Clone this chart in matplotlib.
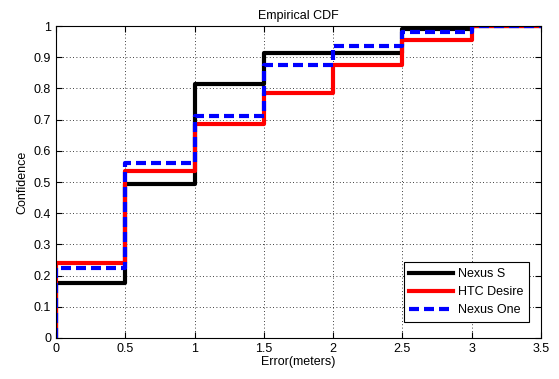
import matplotlib
matplotlib.use("Agg")
import matplotlib.pyplot as plt

# step edges (meters) and CDF values for each phone
edges = [0, 0, 0.5, 1.0, 1.5, 2.0, 2.5, 3.0, 3.5]
nexus_s = [0, 0.175, 0.495, 0.815, 0.915, 0.915, 0.99, 1.0, 1.0]
htc_desire = [0, 0.24, 0.535, 0.685, 0.785, 0.875, 0.955, 1.0, 1.0]
nexus_one = [0, 0.225, 0.56, 0.71, 0.875, 0.935, 0.98, 1.0, 1.0]

xticks = [0, 0.5, 1, 1.5, 2, 2.5, 3, 3.5]
yticks = [0, 0.1, 0.2, 0.3, 0.4, 0.5, 0.6, 0.7, 0.8, 0.9, 1]

plt.rcParams['font.family'] = ['Liberation Sans', 'DejaVu Sans']
plt.rcParams['font.size'] = 9

fig = plt.figure(figsize=(5.59, 3.79), dpi=100)
fig.patch.set_facecolor('white')
ax = fig.add_axes([56 / 559, 41 / 379, 485 / 559, 312 / 379])

ax.plot(edges, nexus_s, color='black', lw=3, drawstyle='steps-post', label='Nexus S')
ax.plot(edges, htc_desire, color='red', lw=3, drawstyle='steps-post', label='HTC Desire')
ax.plot(edges, nexus_one, color='blue', lw=3, drawstyle='steps-post',
        dashes=(2.4, 1.2), label='Nexus One')

ax.set_xlim(0, 3.5)
ax.set_ylim(0, 1)
ax.set_xticks(xticks)
ax.set_xticklabels([f"{t:g}" for t in xticks])
ax.set_yticks(yticks)
ax.set_yticklabels([f"{t:g}" for t in yticks])
ax.tick_params(direction='in', length=4, top=True, right=True, width=0.8)
ax.grid(True, color='black', linestyle=(0, (1, 3)), linewidth=0.6)
for s in ax.spines.values():
    s.set_linewidth(0.8)

ax.set_title('Empirical CDF', fontsize=9, pad=5)
ax.set_xlabel('Error(meters)', labelpad=1)
ax.set_ylabel('Confidence', labelpad=4)

leg = ax.legend(loc='lower right', bbox_to_anchor=(0.975, 0.051), borderaxespad=0,
                fancybox=False, framealpha=1, edgecolor='black',
                handlelength=3.5, handletextpad=0.4, labelspacing=0.5, borderpad=0.45)
leg.get_frame().set_linewidth(0.8)

fig.savefig('out.png', dpi=100, facecolor='white')
